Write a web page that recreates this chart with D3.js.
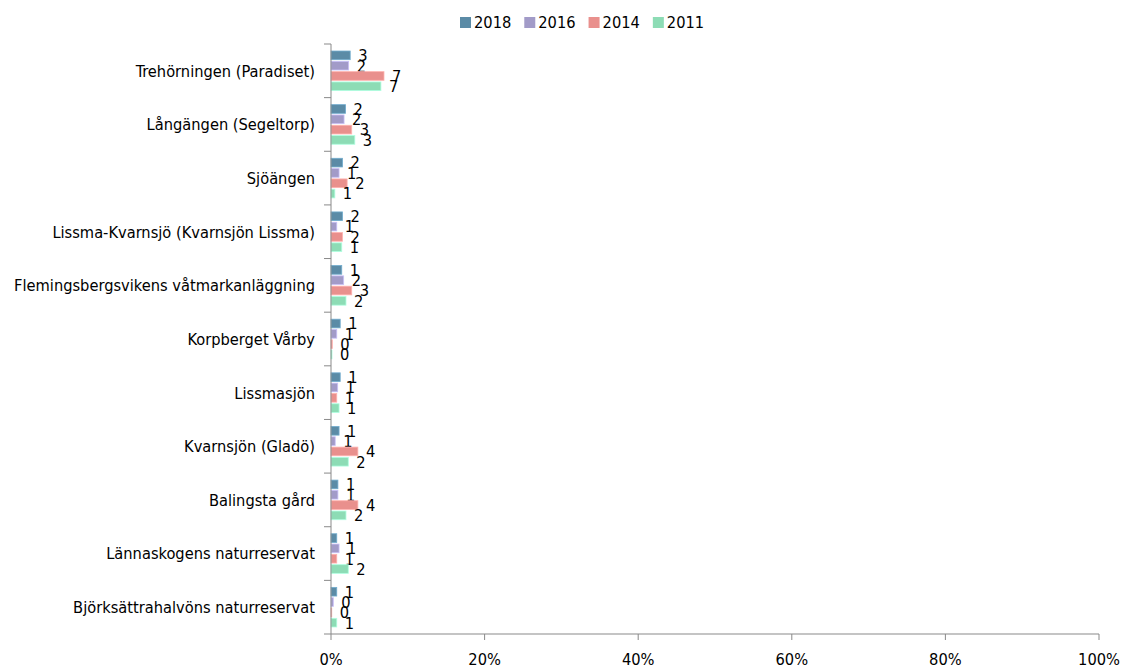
<!DOCTYPE html>
<html>
<head>
<meta charset="utf-8">
<script src="https://cdn.jsdelivr.net/npm/d3@7"></script>
<style>
  body { margin: 0; background: #fff; }
  text { font-family: "DejaVu Sans Condensed", "DejaVu Sans", Verdana, sans-serif; font-stretch: condensed; fill: #000; }
</style>
</head>
<body>
<div class="chart"></div>
<script>
// procent per område och år
const areas = [
  "Trehörningen (Paradiset)",
  "Långängen (Segeltorp)",
  "Sjöängen",
  "Lissma-Kvarnsjö (Kvarnsjön Lissma)",
  "Flemingsbergsvikens våtmarkanläggning",
  "Korpberget Vårby",
  "Lissmasjön",
  "Kvarnsjön (Gladö)",
  "Balingsta gård",
  "Lännaskogens naturreservat",
  "Björksättrahalvöns naturreservat"
];
const years = ["2018", "2016", "2014", "2011"];
const v2018 = [2.5, 1.9, 1.5, 1.5, 1.4, 1.2, 1.2, 1.05, 0.9, 0.75, 0.75];
const v2016 = [2.3, 1.7, 1.05, 0.75, 1.65, 0.75, 0.87, 0.55, 0.9, 1.05, 0.3];
const v2014 = [6.9, 2.7, 2.1, 1.5, 2.7, 0.17, 0.75, 3.5, 3.5, 0.75, 0.1];
const v2011 = [6.5, 3.1, 0.5, 1.4, 1.95, 0.13, 1.05, 2.25, 1.95, 2.25, 0.75];
const xTicks = [0, 20, 40, 60, 80, 100];
const colors = ["#5b8ba6", "#a29bc8", "#e9908d", "#8ddcb5"];

const series = [v2018, v2016, v2014, v2011];
const fs = "16.3px";

const W = 1126, H = 668;
const svg = d3.select(".chart").append("svg")
  .attr("width", W).attr("height", H);

const x = d3.scaleLinear().domain([0, 100]).range([331, 1099]);
const y0 = d3.scaleBand().domain(areas).range([44, 634]);
const y1 = d3.scaleBand().domain(years).range([0, y0.bandwidth()])
  .paddingInner(0.16).paddingOuter(0.68);

// staplar
const groups = svg.append("g").selectAll("g")
  .data(areas)
  .join("g")
  .attr("transform", d => `translate(0,${y0(d)})`);

groups.each(function(area, i) {
  const g = d3.select(this);
  years.forEach((yr, k) => {
    const val = series[k][i];
    g.append("rect")
      .attr("x", x(0))
      .attr("y", y1(yr))
      .attr("width", x(val) - x(0))
      .attr("height", y1.bandwidth())
      .attr("fill", colors[k])
      .attr("stroke", d3.color(colors[k]).brighter(0.6))
      .attr("stroke-width", 0.8);
    g.append("text")
      .attr("x", x(val) + 8)
      .attr("y", y1(yr) + y1.bandwidth() / 2)
      .attr("dy", "0.36em")
      .style("font-size", fs)
      .text(Math.round(val));
  });
});

// y-axel
const yAxis = svg.append("g").attr("transform", `translate(${x(0)},0)`);
yAxis.append("line")
  .attr("x1", 0).attr("x2", 0).attr("y1", 44).attr("y2", 634)
  .attr("stroke", "#898989");
yAxis.selectAll(".tk")
  .data(areas.map(a => y0(a)).concat([634]))
  .join("line")
  .attr("x1", -7).attr("x2", 0)
  .attr("y1", d => d).attr("y2", d => d)
  .attr("stroke", "#898989");
yAxis.selectAll(".lbl")
  .data(areas)
  .join("text")
  .attr("x", -16)
  .attr("y", d => y0(d) + y0.bandwidth() / 2)
  .attr("dy", "0.36em")
  .attr("text-anchor", "end")
  .style("font-size", fs)
  .text(d => d);

// x-axel
const xAxis = svg.append("g").attr("transform", "translate(0,634)");
xAxis.append("line")
  .attr("x1", x(0)).attr("x2", x(100))
  .attr("stroke", "#898989");
xAxis.selectAll(".xt")
  .data(xTicks)
  .join("line")
  .attr("x1", d => x(d)).attr("x2", d => x(d))
  .attr("y1", 0).attr("y2", 6)
  .attr("stroke", "#898989");
xAxis.selectAll(".xl")
  .data(xTicks)
  .join("text")
  .attr("x", d => x(d))
  .attr("y", 31)
  .attr("text-anchor", "middle")
  .style("font-size", fs)
  .text(d => d + "%");

// legend
const legend = svg.append("g").attr("transform", "translate(460,17)");
let lx = 0;
years.forEach((yr, k) => {
  legend.append("rect")
    .attr("x", lx).attr("y", 0)
    .attr("width", 11).attr("height", 11)
    .attr("fill", colors[k]);
  const t = legend.append("text")
    .attr("x", lx + 14)
    .attr("y", 11)
    .style("font-size", fs)
    .text(yr);
  lx += 14 + t.node().getComputedTextLength() + 13;
});
</script>
</body>
</html>
